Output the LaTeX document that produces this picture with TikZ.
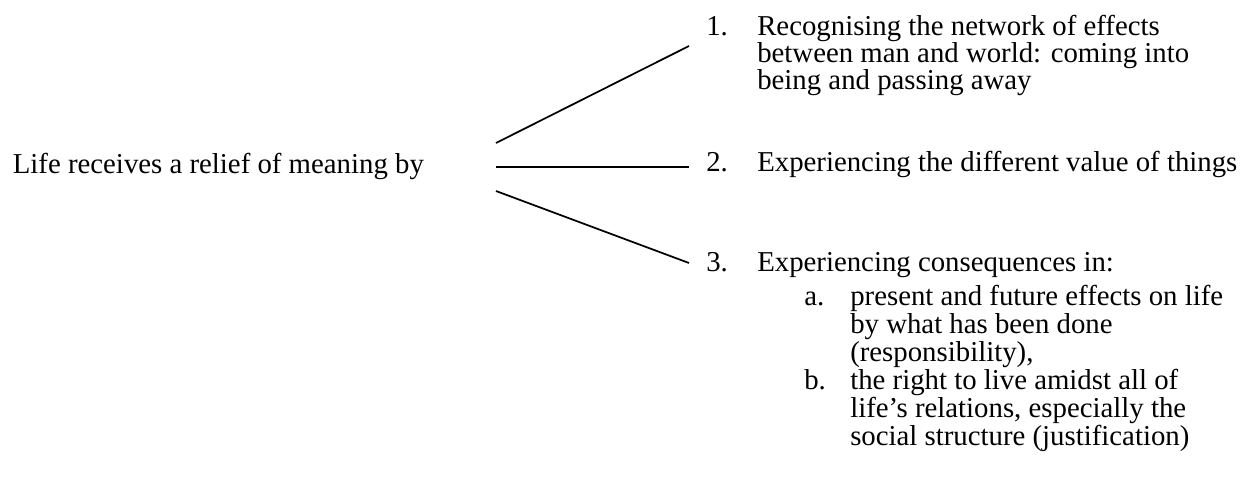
\documentclass[tikz,border=0pt]{standalone}
\usepackage{fontspec}
\setmainfont{Liberation Serif}

\begin{document}
\begin{tikzpicture}[x=0.75pt,y=-0.75pt,font=\fontsize{21.6}{21}\selectfont,
  every node/.style={anchor=base west,inner sep=0pt},
  branch/.style={line width=1.3pt}]
\useasboundingbox (0,0) rectangle (1258,480);
% stem
\node (life) at (12.6,173) {Life receives a relief of meaning by};
\coordinate (fromA) at (496,143); \coordinate (toA) at (689,46);
\coordinate (fromB) at (496,167); \coordinate (toB) at (689,167);
\coordinate (fromC) at (496,191); \coordinate (toC) at (689,263);
\draw[branch] (fromA) -- (toA);
\draw[branch] (fromB) -- (toB);
\draw[branch] (fromC) -- (toC);
% item 1
\node (numA) at (706,35) {1.};
\node (itemA1) at (757,35) {Recognising the network of effects};
\node (itemA2) at (757,62) {between man and world: coming into};
\node (itemA3) at (757,89) {being and passing away};
% item 2
\node (numB) at (706,171) {2.};
\node (itemB1) at (757,171) {Experiencing the different value of things};
% item 3
\node (numC) at (706,271) {3.};
\node (itemC1) at (757,271) {Experiencing consequences in:};
\node (subA) at (804,305) {a.};
\node (subA1) at (850,305) {present and future effects on life};
\node (subA2) at (850,333) {by what has been done};
\node (subA3) at (850,361) {(responsibility),};
\node (subB) at (804,389) {b.};
\node (subB1) at (850,389) {the right to live amidst all of};
\node (subB2) at (850,417) {life’s relations, especially the};
\node (subB3) at (850,445) {social structure (justification)};
\end{tikzpicture}
\end{document}
